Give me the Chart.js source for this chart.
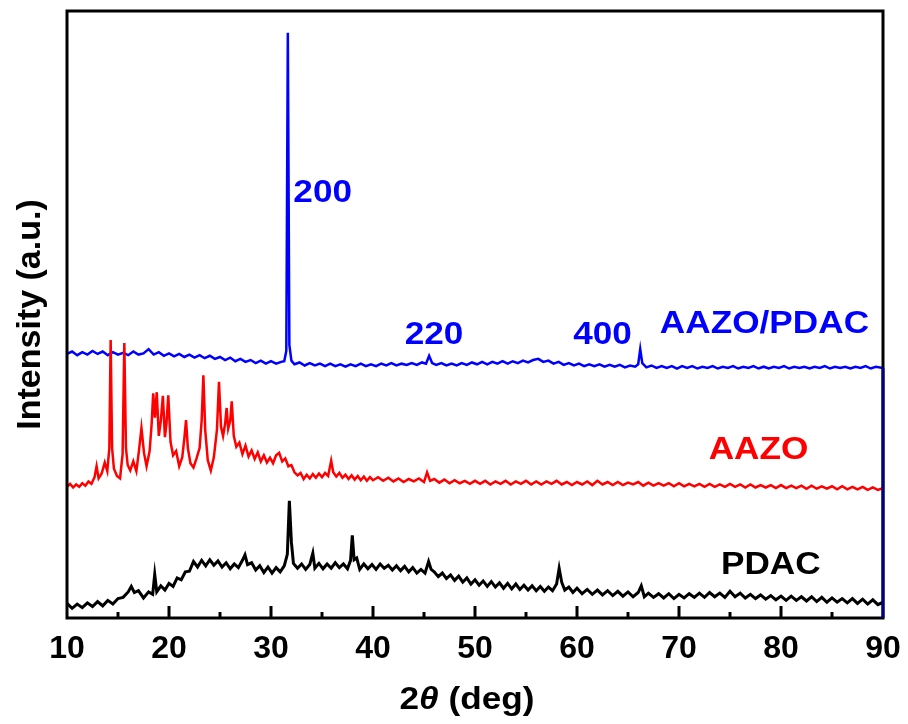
<!DOCTYPE html>
<html>
<head>
<meta charset="utf-8">
<script src="https://cdn.jsdelivr.net/npm/chart.js"></script>
<style>
  html, body { margin: 0; padding: 0; background: #fff; }
  #wrap { width: 908px; height: 724px; }
</style>
</head>
<body>
<div id="wrap"><canvas id="xrdChart" width="908" height="724"></canvas></div>
<script>
// 2theta range and tick labels
const xMin = 10;
const xMax = 90;
const xTickStep = 10;

// PDAC pattern, [2theta, intensity] (arbitrary offset units)
const pdac = [
  [10,2.4],[10.5,1.6],[11,2.3],[11.5,1.7],[12,2.5],[12.5,1.9],[13,2.7],[13.5,2.0],[14,2.9],[14.5,2.3],
  [15,3.2],[15.5,3.4],[16,4.3],[16.3,5.2],[16.6,4.2],[17,4.5],[17.5,3.3],[18,4.3],[18.4,3.9],[18.6,7.2],
  [18.8,4.3],[19.2,5.3],[19.6,4.6],[20,5.7],[20.4,5.2],[20.8,6.6],[21.2,6.3],[21.6,7.6],[22,7.7],[22.4,9.3],
  [22.8,8.4],[23.2,9.5],[23.6,8.6],[24,9.6],[24.4,8.7],[24.8,9.4],[25.2,8.4],[25.6,9.1],[26,8.1],[26.4,8.9],
  [26.8,8.3],[27.2,9.5],[27.45,10.4],[27.7,8.8],[28.1,9.1],[28.5,7.9],[28.9,8.6],[29.3,7.5],[29.7,8.4],[30.1,7.4],
  [30.5,8.3],[30.9,7.6],[31.3,8.6],[31.6,10.5],[31.8,19.3],[32.0,12.5],[32.2,9.0],[32.6,8.2],[33.0,8.9],[33.4,8.0],
  [33.8,8.8],[34.1,10.7],[34.3,8.2],[34.7,9.0],[35.1,8.1],[35.5,8.9],[35.9,8.2],[36.3,9.1],[36.7,8.3],[37.1,8.9],
  [37.5,8.1],[37.8,9.5],[37.97,13.6],[38.15,9.6],[38.4,9.9],[38.7,8.0],[39.1,8.9],[39.5,8.1],[39.9,8.8],[40.3,8.0],
  [40.7,8.9],[41.1,8.2],[41.5,8.7],[41.9,7.9],[42.3,8.6],[42.7,7.8],[43.1,8.5],[43.5,7.6],[43.9,8.3],[44.3,7.4],
  [44.7,8.0],[45.1,7.4],[45.45,9.3],[45.7,8.0],[46.0,7.6],[46.4,6.8],[46.8,7.4],[47.2,6.5],[47.6,7.1],[48.0,6.2],
  [48.4,6.9],[48.8,5.9],[49.2,6.6],[49.6,5.6],[50.0,6.3],[50.4,5.4],[50.8,6.1],[51.2,5.2],[51.6,6.0],[52.0,5.1],
  [52.4,5.8],[52.8,4.9],[53.2,5.7],[53.6,4.8],[54.0,5.6],[54.4,4.7],[54.8,5.4],[55.2,4.6],[55.6,5.3],[56.0,4.5],
  [56.4,5.2],[56.8,4.4],[57.2,5.1],[57.6,4.5],[58.0,5.6],[58.25,8.2],[58.5,5.9],[58.8,4.6],[59.2,5.1],[59.6,4.2],
  [60,4.9],[60.5,4.0],[61,4.7],[61.5,3.9],[62,4.6],[62.5,3.8],[63,4.5],[63.5,3.7],[64,4.4],[64.5,3.6],
  [65,4.3],[65.5,3.5],[66,4.2],[66.3,5.3],[66.6,3.5],[67,4.1],[67.5,3.4],[68,4.0],[68.5,3.3],[69,4.0],
  [69.5,3.2],[70,3.9],[70.5,3.3],[71,4.0],[71.5,3.4],[72,4.1],[72.5,3.4],[73,4.2],[73.5,3.5],[74,4.1],
  [74.5,3.4],[75,4.4],[75.5,3.5],[76,4.1],[76.5,3.3],[77,3.9],[77.5,3.2],[78,3.8],[78.5,3.1],[79,3.7],
  [79.5,3.0],[80,3.6],[80.5,2.9],[81,3.6],[81.5,2.9],[82,3.5],[82.5,2.8],[83,3.5],[83.5,2.7],[84,3.4],
  [84.5,2.6],[85,3.3],[85.5,2.6],[86,3.2],[86.5,2.5],[87,3.2],[87.5,2.4],[88,3.1],[88.5,2.3],[89,3.0],
  [89.5,2.2],[90,2.6]
];

// AAZO pattern
const aazo = [
  [10,21.6],[10.3,22.1],[10.6,21.5],[10.9,22.0],[11.2,21.6],[11.5,22.2],[11.8,21.8],[12.1,22.5],[12.4,22.1],[12.7,23.2],
  [12.9,25.0],[13.1,23.0],[13.4,23.8],[13.7,25.6],[13.95,24.2],[14.15,28.0],[14.28,45.8],[14.42,28.0],[14.6,24.6],[14.9,23.4],
  [15.2,23.0],[15.45,27.0],[15.62,45.3],[15.78,28.0],[15.95,25.2],[16.2,24.3],[16.5,25.8],[16.8,24.2],[17.05,27.5],[17.3,31.3],
  [17.55,27.2],[17.8,25.0],[18.1,27.5],[18.3,32.0],[18.45,37.0],[18.62,33.0],[18.8,37.2],[19.0,30.0],[19.2,32.5],[19.4,36.6],
  [19.6,29.8],[19.75,32.0],[19.93,36.7],[20.15,29.0],[20.4,26.8],[20.7,27.5],[21.0,25.0],[21.3,26.5],[21.5,29.5],[21.67,32.6],
  [21.85,28.0],[22.1,25.5],[22.4,24.8],[22.7,26.3],[23.0,28.0],[23.2,32.5],[23.37,40.0],[23.55,31.0],[23.8,26.0],[24.1,24.3],
  [24.4,26.5],[24.7,31.0],[24.9,38.9],[25.1,31.5],[25.3,30.0],[25.5,32.0],[25.65,34.6],[25.8,31.2],[26.0,32.5],[26.15,35.7],
  [26.35,30.0],[26.6,28.2],[26.9,28.9],[27.2,27.0],[27.5,28.4],[27.8,26.6],[28.1,27.6],[28.4,26.2],[28.7,27.3],[29.0,25.8],
  [29.3,26.8],[29.6,25.6],[29.9,26.4],[30.2,25.5],[30.5,26.8],[30.8,27.2],[31.1,25.8],[31.4,26.3],[31.7,25.0],[32.0,25.2],
  [32.3,24.0],[32.6,23.5],[32.9,23.9],[33.2,22.9],[33.5,23.6],[33.8,23.0],[34.1,23.7],[34.4,23.1],[34.7,23.8],[35.0,23.2],
  [35.3,23.9],[35.6,23.4],[35.9,25.9],[36.1,24.0],[36.4,23.3],[36.7,23.9],[37.0,23.1],[37.3,23.6],[37.6,22.9],[37.9,23.5],
  [38.2,22.8],[38.5,23.4],[38.8,22.7],[39.1,23.3],[39.4,22.6],[39.7,23.2],[40.0,22.7],[40.5,23.2],[41,22.6],[41.5,23.1],
  [42,22.5],[42.5,23.0],[43,22.4],[43.5,22.9],[44,22.5],[44.5,23.0],[45,22.4],[45.3,24.0],[45.6,22.6],[46,22.9],
  [46.5,22.3],[47,22.8],[47.5,22.2],[48,22.7],[48.5,22.2],[49,22.6],[49.5,22.1],[50,22.6],[50.5,22.1],[51,22.6],
  [51.5,22.0],[52,22.5],[52.5,22.1],[53,22.6],[53.5,22.0],[54,22.5],[54.5,22.1],[55,22.6],[55.5,22.0],[56,22.5],
  [56.5,22.0],[57,22.5],[57.5,22.1],[58,22.6],[58.5,22.0],[59,22.4],[59.5,21.9],[60,22.4],[60.5,22.0],[61,22.5],
  [61.5,21.9],[62,22.6],[62.5,22.0],[63,22.4],[63.5,21.9],[64,22.4],[64.5,21.9],[65,22.3],[65.5,22.0],[66,22.4],
  [66.5,21.8],[67,22.3],[67.5,21.8],[68,22.2],[68.5,21.8],[69,22.2],[69.5,21.7],[70,22.2],[70.5,21.7],[71,22.1],
  [71.5,21.7],[72,22.1],[72.5,21.6],[73,22.1],[73.5,21.6],[74,22.0],[74.5,21.6],[75,22.1],[75.5,21.6],[76,22.0],
  [76.5,21.5],[77,22.0],[77.5,21.5],[78,21.9],[78.5,21.5],[79,21.9],[79.5,21.4],[80,21.9],[80.5,21.4],[81,21.8],
  [81.5,21.4],[82,21.8],[82.5,21.3],[83,21.8],[83.5,21.3],[84,21.7],[84.5,21.3],[85,21.7],[85.5,21.2],[86,21.7],
  [86.5,21.2],[87,21.6],[87.5,21.2],[88,21.6],[88.5,21.1],[89,21.5],[89.5,21.1],[90,21.4]
];

// AAZO/PDAC pattern
const aazoPdac = [
  [10,43.5],[10.5,43.9],[11,43.3],[11.5,43.8],[12,43.4],[12.5,44.0],[13,43.5],[13.5,43.9],[14,43.3],[14.5,43.8],
  [15,43.4],[15.5,43.7],[16,43.3],[16.5,43.9],[17,43.4],[17.5,43.6],[18,44.3],[18.5,43.4],[19,43.8],[19.5,43.2],
  [20,43.6],[20.5,43.1],[21,43.5],[21.5,43.0],[22,43.4],[22.5,42.9],[23,43.3],[23.5,42.8],[24,43.2],[24.5,42.7],
  [25,43.0],[25.5,42.5],[26,42.9],[26.5,42.3],[27,42.7],[27.5,42.2],[28,42.5],[28.5,42.0],[29,42.4],[29.5,41.9],
  [30,42.3],[30.5,41.9],[31,42.2],[31.3,42.3],[31.5,44.0],[31.65,96.4],[31.8,45.0],[32.0,42.4],[32.3,41.8],[32.8,42.1],
  [33.3,41.6],[33.8,42.0],[34.3,41.6],[34.8,41.9],[35.3,41.5],[35.8,41.9],[36.3,41.5],[36.8,41.8],[37.3,41.4],[37.8,41.8],
  [38.3,41.5],[38.8,41.9],[39.3,41.5],[39.8,41.8],[40.3,41.5],[40.8,41.9],[41.3,41.6],[41.8,42.0],[42.3,41.6],[42.8,41.9],
  [43.3,41.7],[43.8,42.0],[44.3,41.7],[44.8,42.1],[45.2,41.9],[45.5,43.2],[45.8,42.0],[46.2,41.7],[46.7,42.0],[47.2,41.6],
  [47.7,41.9],[48.2,41.6],[48.7,42.0],[49.2,41.7],[49.7,42.1],[50.2,41.8],[50.7,42.2],[51.2,41.8],[51.7,42.2],[52.2,41.9],
  [52.7,42.3],[53.2,41.9],[53.7,42.3],[54.2,42.0],[54.7,42.4],[55.2,42.1],[55.7,42.5],[56.2,42.7],[56.7,42.2],[57.2,42.4],
  [57.7,41.9],[58.2,42.2],[58.7,41.7],[59.2,42.0],[59.7,41.6],[60.2,41.9],[60.7,41.5],[61.2,41.8],[61.7,41.5],[62.2,41.8],
  [62.7,41.4],[63.2,41.7],[63.7,41.4],[64.2,41.7],[64.7,41.3],[65.2,41.6],[65.7,41.4],[66.0,41.8],[66.2,44.3],[66.4,42.0],
  [66.8,41.3],[67.3,41.6],[67.8,41.2],[68.3,41.5],[68.8,41.2],[69.3,41.5],[69.8,41.1],[70.3,41.5],[70.8,41.2],[71.3,41.5],
  [71.8,41.1],[72.3,41.4],[72.8,41.2],[73.3,41.5],[73.8,41.1],[74.3,41.4],[74.8,41.2],[75.3,41.5],[75.8,41.1],[76.3,41.4],
  [76.8,41.2],[77.3,41.5],[77.8,41.1],[78.3,41.4],[78.8,41.1],[79.3,41.4],[79.8,41.2],[80.3,41.5],[80.8,41.1],[81.3,41.4],
  [81.8,41.2],[82.3,41.4],[82.8,41.1],[83.3,41.4],[83.8,41.2],[84.3,41.5],[84.8,41.1],[85.3,41.4],[85.8,41.2],[86.3,41.4],
  [86.8,41.1],[87.3,41.4],[87.8,41.2],[88.3,41.5],[88.8,41.1],[89.3,41.4],[90,41.2]
];

// text labels inside the plot: [text, 2theta, intensity, colour]
const peakLabels = [
  ['200', 35.07, 70.0, '#0000ff'],
  ['220', 45.98, 46.6, '#0000ff'],
  ['400', 62.5, 46.6, '#0000ff'],
  ['AAZO/PDAC', 78.38, 48.4, '#0000ff'],
  ['AAZO', 77.8, 27.7, '#ff0000'],
  ['PDAC', 79.0, 8.7, '#000000']
];

const fontFamily = '"Liberation Sans", Arial, Helvetica, sans-serif';

// frame, inward ticks, labels and the x title
const decorPlugin = {
  id: 'decor',
  afterDraw(chart) {
    const ctx = chart.ctx;
    const area = chart.chartArea;
    const xScale = chart.scales.x;
    const yScale = chart.scales.y;

    ctx.save();
    // frame
    ctx.strokeStyle = '#000';
    ctx.lineWidth = 3;
    ctx.strokeRect(area.left, area.top, area.right - area.left, area.bottom - area.top);

    // right spine below the blue trace end looks navy
    const blueEnd = yScale.getPixelForValue(aazoPdac[aazoPdac.length - 1][1]);
    ctx.strokeStyle = '#000080';
    ctx.beginPath();
    ctx.moveTo(area.right, blueEnd);
    ctx.lineTo(area.right, area.bottom);
    ctx.stroke();

    // ticks pointing in
    ctx.strokeStyle = '#000';
    for (let v = xMin; v <= xMax; v += xTickStep / 2) {
      const px = xScale.getPixelForValue(v);
      const len = (v - xMin) % xTickStep === 0 ? 12 : 6;
      if (v === xMin || v === xMax) continue;
      ctx.beginPath();
      ctx.moveTo(px, area.bottom);
      ctx.lineTo(px, area.bottom - len);
      ctx.stroke();
    }

    // peak / sample labels (source font is a bit wider than Arial)
    ctx.font = 'bold 32px ' + fontFamily;
    ctx.textAlign = 'center';
    ctx.textBaseline = 'middle';
    peakLabels.forEach(([text, x, y, color]) => {
      const px = xScale.getPixelForValue(x);
      const py = yScale.getPixelForValue(y);
      ctx.save();
      ctx.translate(px, py);
      ctx.scale(1.1, 1);
      ctx.fillStyle = color;
      ctx.fillText(text, 0, 0);
      ctx.restore();
    });

    // x title: 2θ (deg) with italic theta
    const parts = [
      ['2', 'bold 32px ' + fontFamily],
      ['\u03b8', 'italic bold 32px ' + fontFamily],
      [' (deg)', 'bold 32px ' + fontFamily]
    ];
    let total = 0;
    parts.forEach(([t, f]) => { ctx.font = f; total += ctx.measureText(t).width; });
    ctx.save();
    ctx.translate(467, 700);
    ctx.scale(1.1, 1);
    ctx.textAlign = 'left';
    ctx.fillStyle = '#000';
    let cx = -total / 2;
    parts.forEach(([t, f]) => {
      ctx.font = f;
      ctx.fillText(t, cx, 0);
      cx += ctx.measureText(t).width;
    });
    ctx.restore();
    ctx.restore();
  }
};

function lineSet(label, data, color, width) {
  return {
    label: label,
    data: data,
    borderColor: color,
    backgroundColor: color,
    borderWidth: width,
    pointRadius: 0,
    tension: 0,
    fill: false
  };
}

new Chart(document.getElementById('xrdChart'), {
  type: 'line',
  data: {
    datasets: [
      lineSet('PDAC', pdac, '#000000', 3),
      lineSet('AAZO', aazo, '#ff0000', 2.5),
      lineSet('AAZO/PDAC', aazoPdac, '#0000ff', 2.5)
    ]
  },
  options: {
    responsive: false,
    animation: false,
    layout: { padding: { top: 11, right: 25, left: 0, bottom: 0 } },
    plugins: {
      legend: { display: false },
      tooltip: { enabled: false }
    },
    scales: {
      x: {
        type: 'linear',
        min: xMin,
        max: xMax,
        grid: { display: false, drawTicks: false },
        border: { display: false },
        ticks: {
          stepSize: xTickStep,
          color: '#000',
          padding: 12,
          maxRotation: 0,
          font: { family: fontFamily, size: 32, weight: 'bold' }
        },
        afterFit(scale) {
          scale.height = 106;
          scale.paddingLeft = 0;
          scale.paddingRight = 0;
        }
      },
      y: {
        min: 0,
        max: 100,
        grid: { display: false, drawTicks: false },
        border: { display: false },
        ticks: { display: false },
        title: {
          display: true,
          text: 'Intensity (a.u.)',
          color: '#000',
          padding: { top: 10, bottom: 0 },
          font: { family: fontFamily, size: 34, weight: 'bold' }
        },
        afterFit(scale) { scale.width = 67; }
      }
    }
  },
  plugins: [decorPlugin]
});
</script>
</body>
</html>
